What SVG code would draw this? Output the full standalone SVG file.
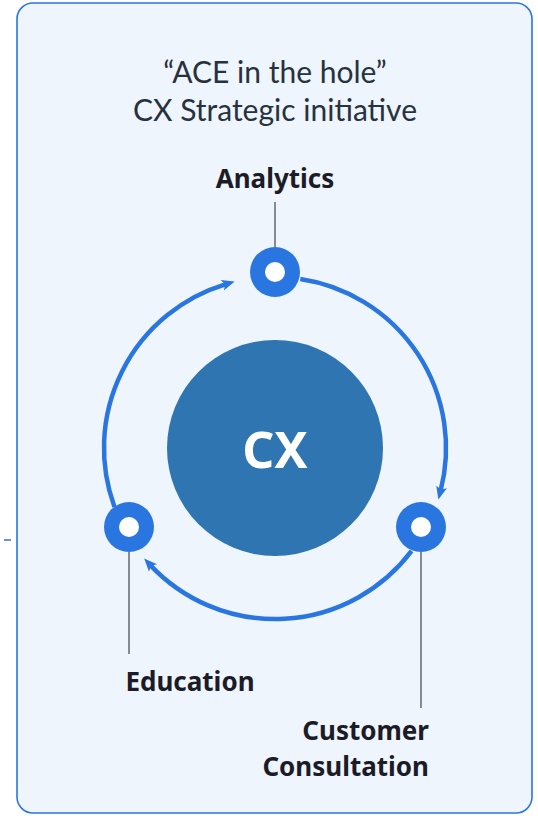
<svg xmlns="http://www.w3.org/2000/svg" width="538" height="816" viewBox="0 0 538 816">
<defs>
<style>
.title{font-family:Lato,"Liberation Sans",sans-serif;font-size:30px;fill:#27323f;text-anchor:middle}
.lbl{font-family:"Noto Sans","Liberation Sans",sans-serif;font-size:26px;font-weight:bold;fill:#1b1c27}
.orbit{fill:none;stroke:#2a76e0;stroke-width:4.5}
.lead{stroke:#6c7079;stroke-width:1.6}
.ring{fill:#2a76e0}
.hole{fill:#ffffff}
</style>
<marker id="ah" markerUnits="userSpaceOnUse" markerWidth="20" markerHeight="20" viewBox="0 0 20 20" refX="4" refY="10" orient="auto">
<path d="M0,4.5 L13,10 L0,15.5 L3,10 Z" fill="#2a76e0"/>
</marker>
</defs>
<rect x="17" y="3" width="515" height="810" rx="16" fill="#eff5fd" stroke="#2a76e0" stroke-width="1.6"/>
<line x1="4" y1="540" x2="11" y2="540" stroke="#2a76e0" stroke-width="1.5"/>
<g id="title">
<text class="title" x="275" y="83">“ACE in the hole”</text>
<text class="title" x="275" y="121">CX Strategic initiative</text>
</g>
<g id="connectors">
<path class="orbit" d="M300.3,278.9 A171,171 0 0 1 440.6,490.8" marker-end="url(#ah)"/>
<path class="orbit" d="M411.6,550.9 A171,171 0 0 1 150.3,565.1" marker-end="url(#ah)"/>
<path class="orbit" d="M114.5,507 A171,171 0 0 1 226.1,284.1" marker-end="url(#ah)"/>
<line class="lead" x1="275" y1="202" x2="275" y2="248"/>
<line class="lead" x1="129" y1="552" x2="129" y2="654"/>
<line class="lead" x1="421" y1="552" x2="421" y2="708"/>
</g>
<g id="cx">
<circle cx="275" cy="448" r="108" fill="#2e75b2"/>
<text x="275" y="468" font-family="'Noto Sans','Liberation Sans',sans-serif" font-size="50" font-weight="bold" fill="#ffffff" text-anchor="middle">CX</text>
</g>
<g id="analytics">
<circle class="ring" cx="275" cy="272" r="25"/>
<circle class="hole" cx="275" cy="272" r="10"/>
<text class="lbl" x="275" y="188" text-anchor="middle">Analytics</text>
</g>
<g id="education">
<circle class="ring" cx="129" cy="527" r="25"/>
<circle class="hole" cx="129" cy="527" r="10"/>
<text class="lbl" x="190" y="691" text-anchor="middle">Education</text>
</g>
<g id="customer-consultation">
<circle class="ring" cx="421" cy="527" r="25"/>
<circle class="hole" cx="421" cy="527" r="10"/>
<text class="lbl" x="429" y="740" text-anchor="end">Customer</text>
<text class="lbl" x="429" y="776" text-anchor="end">Consultation</text>
</g>
</svg>
